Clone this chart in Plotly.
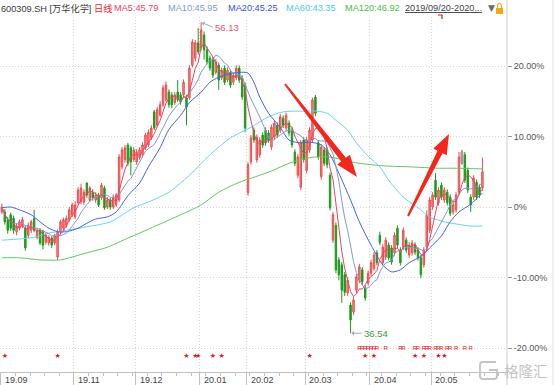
import math
import pandas as pd
import plotly.graph_objects as go

# ---------------- data (percent change vs. base close) ----------------
open_pct = [
    -0.7, -0.7, -1.8, -1.1, -1.6, -3.5, -3.0, -2.7, -3.0, -4.0,
    -3.3, -1.6, -4.3, -3.3, -3.5, -5.0, -5.1, -4.4, -5.1, -7.1,
    -3.5, -3.0, -2.6, -1.8, -1.1, -1.4, 0.6, 0.7, 0.7, 3.4,
    1.0, 2.1, 1.0, 1.7, 1.3, 2.7, 0.0, 1.0, 0.0, 0.3,
    1.0, 5.7, 6.7, 8.8, 8.4, 6.7, 6.4, 7.0, 7.4, 8.4,
    8.8, 9.8, 13.5, 11.6, 13.0, 14.5, 15.2, 16.3, 15.9, 14.8,
    16.3, 15.9, 15.9, 15.5, 15.5, 20.1, 21.1, 23.3, 22.6, 24.4,
    22.3, 21.1, 20.9, 19.1, 20.1, 18.3, 19.7, 18.0, 19.1, 17.7,
    18.3, 19.7, 18.3, 17.3, 2.0, 6.4, 10.9, 6.7, 7.4, 10.2,
    10.9, 10.5, 8.5, 9.9, 11.6, 10.9, 12.6, 11.2, 11.9, 10.9,
    7.8, 4.5, 2.8, 9.5, 5.2, 8.1, 9.5, 15.6, 9.1, 4.3,
    8.1, 8.1, 4.5, -4.7, -2.6, -7.5, -8.2, -9.6, -12.2, -13.9,
    -14.9, -11.8, -10.4, -8.9, -11.5, -10.8, -9.4, -8.7, -6.5, -4.0,
    -7.9, -7.1, -5.4, -5.8, -6.5, -3.0, -6.1, -5.7, -4.7, -6.8,
    -6.5, -5.4, -6.1, -7.2, -8.2, -5.7, -3.3, 0.0, 3.8, 0.6,
    3.1, 1.0, 2.1, 1.4, -0.7, -0.4, 2.1, 6.2, 7.4, 5.2,
    1.4, 1.4, 3.5, 2.8, 2.7,
]
close_pct = [
    0.0, -2.1, -3.3, -3.0, -3.3, -2.7, -2.1, -1.8, -5.8, -2.6,
    -2.1, -3.3, -3.3, -5.1, -5.4, -4.0, -4.3, -5.4, -4.1, -3.5,
    -2.1, -1.8, -1.6, -0.4, 0.3, 0.3, 2.4, 2.7, 2.1, 1.7,
    2.7, 1.3, 1.7, 0.3, 3.1, -0.1, 1.0, 0.0, 1.4, 1.7,
    7.1, 8.1, 8.4, 6.2, 6.4, 8.1, 7.8, 8.1, 8.8, 10.2,
    10.6, 11.2, 11.2, 13.8, 14.5, 16.9, 17.3, 14.5, 14.5, 15.9,
    15.2, 14.9, 17.7, 14.2, 19.7, 23.4, 23.3, 22.0, 25.1, 22.3,
    20.6, 19.7, 18.7, 20.6, 18.0, 19.4, 17.7, 19.4, 17.3, 18.7,
    19.7, 18.0, 15.6, 11.2, 6.0, 9.8, 9.5, 9.9, 9.5, 8.8,
    9.1, 9.5, 11.3, 11.9, 10.2, 12.8, 11.6, 13.0, 10.5, 8.8,
    6.2, 7.1, 9.1, 6.7, 9.5, 10.9, 15.2, 13.3, 7.1, 8.5,
    6.2, 6.0, -0.1, -1.1, -8.9, -9.6, -11.8, -12.1, -10.4, -16.0,
    -13.2, -9.9, -8.5, -10.6, -12.9, -9.4, -7.9, -6.8, -7.9, -5.0,
    -5.7, -4.7, -7.2, -7.8, -4.0, -5.4, -7.9, -3.3, -6.1, -5.4,
    -5.1, -6.4, -7.2, -9.6, -6.1, -1.1, 1.0, 1.7, 1.4, 2.4,
    1.4, 2.4, 0.6, -0.9, 0.3, 1.7, 7.1, 7.8, 3.8, 2.4,
    0.3, 4.1, 1.4, 1.7, 5.0,
]
high_pct = [
    0.5, -0.3, -1.4, -0.8, -1.2, -2.3, -1.8, -1.4, -2.6, -2.2,
    -1.8, -0.4, -3.0, -3.0, -3.2, -3.6, -4.0, -4.1, -3.8, -3.2,
    -1.8, -1.5, -1.2, 0.0, 0.6, 0.8, 2.8, 3.3, 2.5, 3.5,
    3.0, 2.5, 2.1, 2.0, 3.4, 3.0, 1.4, 1.3, 1.8, 2.0,
    7.5, 8.5, 8.8, 9.1, 8.7, 8.5, 8.2, 8.5, 9.2, 10.5,
    11.0, 11.6, 13.8, 14.2, 15.0, 17.3, 17.8, 16.7, 16.3, 16.3,
    18.0, 16.3, 18.1, 15.9, 20.1, 23.8, 23.7, 25.4, 26.2, 24.9,
    22.8, 21.5, 21.3, 21.0, 20.5, 19.8, 20.1, 19.8, 19.5, 19.1,
    20.1, 20.1, 18.7, 17.7, 6.4, 10.2, 11.3, 10.3, 9.9, 10.6,
    11.3, 10.9, 11.7, 12.3, 12.0, 13.2, 13.0, 13.4, 12.3, 11.3,
    8.2, 7.5, 9.5, 9.9, 9.9, 11.3, 15.5, 15.9, 9.5, 8.9,
    8.5, 8.5, 4.9, -0.7, -2.2, -7.1, -7.8, -9.2, -10.0, -13.5,
    -12.8, -9.5, -8.1, -8.5, -11.1, -9.0, -7.5, -6.4, -6.1, -3.5,
    -5.3, -4.3, -5.0, -5.4, -3.6, -2.6, -5.7, -2.9, -4.3, -5.0,
    -4.7, -5.0, -5.7, -6.8, -5.7, -0.5, 1.4, 2.1, 4.8, 2.8,
    3.5, 2.8, 2.5, 1.8, 0.7, 2.1, 7.8, 8.1, 7.8, 5.6,
    1.8, 4.5, 3.9, 3.2, 7.0,
]
low_pct = [
    -1.0, -2.5, -3.8, -3.4, -3.8, -4.0, -3.3, -3.0, -6.2, -4.4,
    -3.7, -3.6, -4.6, -5.4, -6.0, -5.3, -5.5, -5.8, -5.4, -7.5,
    -3.9, -3.3, -2.9, -2.1, -1.4, -1.7, 0.3, 0.4, 0.3, 1.3,
    0.7, 0.9, 0.6, 0.0, 1.0, -0.4, -0.3, -0.4, -0.3, 0.0,
    0.7, 5.3, 6.3, 5.8, 4.5, 6.4, 6.0, 6.7, 7.0, 8.1,
    8.5, 9.5, 10.9, 11.3, 12.8, 14.2, 14.9, 14.1, 14.0, 14.5,
    14.9, 14.5, 15.5, 11.6, 15.2, 19.8, 20.6, 21.6, 22.2, 20.9,
    20.2, 19.3, 18.3, 18.8, 16.6, 18.0, 17.3, 17.7, 16.9, 17.3,
    18.0, 17.6, 15.2, 10.6, 1.6, 6.0, 9.1, 6.3, 7.0, 8.4,
    8.7, 9.1, 8.1, 9.5, 9.8, 10.5, 11.2, 10.8, 10.1, 8.4,
    5.8, 4.1, 2.4, 6.3, 4.8, 7.7, 9.1, 12.9, 6.7, 3.9,
    5.8, 5.5, -0.5, -5.1, -9.4, -10.4, -13.6, -12.6, -12.6, -17.9,
    -15.3, -12.2, -10.8, -11.0, -13.3, -11.2, -9.8, -9.1, -8.3, -5.4,
    -8.3, -7.5, -7.6, -8.2, -6.9, -5.8, -8.3, -6.1, -6.5, -7.2,
    -6.9, -6.8, -7.6, -10.1, -8.6, -6.1, -3.7, -0.4, 1.0, 0.2,
    1.0, 0.6, 0.2, -1.3, -1.1, -0.8, 1.7, 6.0, 3.4, 2.0,
    -0.7, 1.0, 1.0, 1.3, 2.3,
]
gray_day = 157  # candle drawn in gray

# moving averages (trading-day index, percent)
ma20_day = [0, 3, 6, 10, 13, 16, 19, 22, 26, 29, 32, 36, 39, 43, 47, 50, 54, 57, 61, 64,
            68, 71, 74, 78, 81, 84, 86, 88, 91, 95, 98, 102, 105, 109, 112, 115, 119, 122,
            126, 130, 133, 136, 139, 143, 146, 150, 153, 156, 160, 164]
ma20_val = [-0.1, 0.0, -0.4, -1.1, -2.1, -3.0, -3.5, -3.5, -3.0, -2.3, -1.7, -1.4, -0.7, 1.6,
            3.4, 5.7, 8.4, 11.0, 13.0, 14.8, 16.3, 17.7, 18.4, 18.9, 19.1, 19.0, 17.7, 15.6,
            13.3, 11.3, 9.5, 9.1, 9.2, 8.8, 7.4, 4.8, 1.0, -2.1, -5.4, -8.2, -9.2, -8.9, -7.9,
            -7.0, -5.8, -4.1, -2.1, -0.7, 0.4, 2.0]
ma60_day = [0, 11, 16, 22, 29, 37, 45, 50, 57, 64, 71, 78, 85, 91, 96, 102, 107, 111, 114,
            118, 121, 125, 129, 132, 137, 142, 146, 151, 155, 160, 164]
ma60_val = [-4.7, -4.3, -3.7, -3.3, -2.8, -2.1, -0.1, 0.7, 2.1, 4.5, 7.4, 9.8, 11.3, 12.8,
            13.5, 13.6, 13.6, 13.3, 12.3, 10.9, 9.1, 7.2, 5.7, 3.8, 1.4, -0.1, -1.4, -2.1,
            -2.4, -2.7, -2.7]
ma120_day = [0, 6, 13, 20, 23, 29, 36, 43, 47, 54, 61, 68, 74, 81, 88, 92, 98, 105, 112,
             119, 126, 132, 139, 149, 155, 164]
ma120_val = [-7.2, -7.2, -7.5, -7.5, -7.2, -6.5, -5.7, -4.4, -3.7, -2.4, -1.1, 0.3, 2.1, 3.5,
             4.5, 5.1, 6.2, 7.0, 7.1, 6.4, 6.0, 5.8, 5.7, 5.5, 5.5, 5.4]

month_day = [0, 25, 46, 68, 84, 104, 126, 147]
month_label = ["19.09", "19.11", "19.12", "20.01", "20.02", "20.03", "20.04", "20.05"]
y_ticks = [20, 10, 0, -10, -20]
y_ticktext = ["20.00%", "10.00%", "0%", "-10.00%", "-20.00%"]

star_day = [1, 19, 63, 66, 67, 72, 75, 105, 124, 127, 141, 144, 149, 151]
r_day = [122, 123, 124, 125, 126, 127, 128, 131, 136, 137, 141, 142, 144, 145, 146,
         148, 149, 150, 152, 153, 155, 158, 160]

high_label, high_day, high_val = "56.13", 68, 26.2
low_label, low_day, low_val = "36.54", 119, -17.9

header = [
    ("600309.SH [万华化学]", "#3a3a3a"),
    ("日线", "#e8262a"),
    ("MA5:45.79", "#f0405f"),
    ("MA10:45.95", "#7f9ac8"),
    ("MA20:45.25", "#3a4cf0"),
    ("MA60:43.35", "#3fcfea"),
    ("MA120:46.92", "#4cc04c"),
    ("<u>2019/09/20-2020...</u>", "#444444"),
]

# ---------------- figure ----------------
N = len(close_pct)
days = list(range(N))
closes = pd.Series(close_pct)
ma5 = closes.rolling(5, min_periods=1).mean()
ma10 = closes.rolling(10, min_periods=1).mean()

W, H = 554, 385
ML, MR, MT, MB = 0, 47, 17, 13
PW, PH = W - ML - MR, H - MT - MB
PX_PER_DAY = 2.93
x0 = -1.9 / PX_PER_DAY
x1 = x0 + PW / PX_PER_DAY
Y_TOP, Y_BOT = 26.95, -23.40


def pxx(x):
    return (x - ML) / PW


def pxy(y):
    return (H - MB - y) / PH


fig = go.Figure()
fig.add_trace(go.Candlestick(
    x=days, open=open_pct, high=high_pct, low=low_pct, close=close_pct,
    increasing=dict(line=dict(color="#f04a4a", width=1), fillcolor="#f88a8a"),
    decreasing=dict(line=dict(color="#1e9a1e", width=1), fillcolor="#1e9a1e"),
    whiskerwidth=0, showlegend=False, hoverinfo="skip",
))
g = gray_day
fig.add_trace(go.Candlestick(
    x=[g], open=[open_pct[g]], high=[high_pct[g]], low=[low_pct[g]], close=[close_pct[g]],
    increasing=dict(line=dict(color="#9a9a9a", width=1), fillcolor="#b0b0b0"),
    decreasing=dict(line=dict(color="#9a9a9a", width=1), fillcolor="#b0b0b0"),
    whiskerwidth=0, showlegend=False, hoverinfo="skip",
))

line_specs = [
    (ma120_day, ma120_val, "#62c862"),
    (ma60_day, ma60_val, "#66d6ee"),
    (ma20_day, ma20_val, "#4262ee"),
]
for xs, ys, col in line_specs:
    fig.add_trace(go.Scatter(x=xs, y=ys, mode="lines", line=dict(color=col, width=1, shape="spline", smoothing=0.8),
                             showlegend=False, hoverinfo="skip"))
fig.add_trace(go.Scatter(x=days, y=ma10, mode="lines", line=dict(color="#7f9cd4", width=1),
                         showlegend=False, hoverinfo="skip"))
fig.add_trace(go.Scatter(x=days, y=ma5, mode="lines", line=dict(color="#e8456a", width=1),
                         showlegend=False, hoverinfo="skip"))

# signal markers
fig.add_trace(go.Scatter(x=star_day, y=[-21.1] * len(star_day), mode="text", text=["★"] * len(star_day),
                         textfont=dict(family="DejaVu Sans", size=7, color="#e01818"),
                         showlegend=False, hoverinfo="skip"))
fig.add_trace(go.Scatter(x=r_day, y=[-20.1] * len(r_day), mode="text", text=["R"] * len(r_day),
                         textfont=dict(family="Liberation Sans", size=6, color="#e01818"),
                         showlegend=False, hoverinfo="skip"))

annotations = []
# high / low labels
annotations.append(dict(x=high_day, y=high_val, xref="x", yref="y", text=high_label, showarrow=True,
                        ax=12, ay=5, xanchor="left", yanchor="middle", arrowhead=1, arrowsize=0.8,
                        arrowwidth=1, arrowcolor="#8fb0cc", standoff=1,
                        font=dict(family="Liberation Sans", size=9.5, color="#e85a66")))
annotations.append(dict(x=low_day, y=low_val, xref="x", yref="y", text=low_label, showarrow=True,
                        ax=11, ay=0, xanchor="left", yanchor="middle", arrowhead=1, arrowsize=0.8,
                        arrowwidth=1, arrowcolor="#8fb0cc", standoff=1,
                        font=dict(family="Liberation Sans", size=9.5, color="#38a038")))

# header
header_x = [-1, 92, 112, 166, 226, 284, 343, 403]
for (txt, col), hx in zip(header, header_x):
    annotations.append(dict(x=pxx(hx), y=pxy(8), xref="paper", yref="paper", text=txt, showarrow=False,
                            xanchor="left", yanchor="middle",
                            font=dict(family="Liberation Sans, Noto Sans CJK SC", size=9.2, color=col)))
annotations.append(dict(x=pxx(486), y=pxy(8), xref="paper", yref="paper", text="▼", showarrow=False,
                        xanchor="left", yanchor="middle",
                        font=dict(family="DejaVu Sans", size=9, color="#6a6a6a")))

# x tick labels (left-aligned after each month boundary)
for d, lab in zip(month_day, month_label):
    annotations.append(dict(x=d - 0.4, y=0, xref="x", yref="paper", text=lab, showarrow=False,
                            xanchor="left", yanchor="top", xshift=2, yshift=-1,
                            font=dict(family="Liberation Sans", size=9, color="#444444")))

# watermark
annotations.append(dict(x=pxx(502), y=pxy(370), xref="paper", yref="paper", text="格隆汇", showarrow=False,
                        xanchor="left", yanchor="middle",
                        font=dict(family="Noto Sans CJK SC", size=14.5, color="#c4c4c4")))


def arrow_path(tx, ty, hx, hy, tail_w, shaft_w, head_w, head_len):
    L = math.hypot(hx - tx, hy - ty)
    ux, uy = (hx - tx) / L, (hy - ty) / L
    nx, ny = -uy, ux
    bx, by = hx - ux * head_len, hy - uy * head_len
    pts = [(tx + nx * tail_w, ty + ny * tail_w), (bx + nx * shaft_w, by + ny * shaft_w),
           (bx + nx * head_w, by + ny * head_w), (hx, hy),
           (bx - nx * head_w, by - ny * head_w), (bx - nx * shaft_w, by - ny * shaft_w),
           (tx - nx * tail_w, ty - ny * tail_w)]
    return "M " + " L ".join(f"{pxx(x):.5f},{pxy(y):.5f}" for x, y in pts) + " Z"


shapes = []
for spec in [(285, 84, 357, 177, 1.0, 3.0, 8.0, 22), (408, 216, 449, 134, 1.0, 2.8, 7.5, 20)]:
    shapes.append(dict(type="path", xref="paper", yref="paper", path=arrow_path(*spec),
                       fillcolor="#f5261b", line=dict(width=0)))
# axis frame lines
shapes.append(dict(type="line", xref="paper", yref="paper", x0=pxx(507), x1=pxx(507), y0=pxy(385), y1=pxy(0),
                   line=dict(color="#cfcfcf", width=1)))
shapes.append(dict(type="line", xref="paper", yref="paper", x0=pxx(553), x1=pxx(553), y0=pxy(385), y1=pxy(0),
                   line=dict(color="#e2e2e2", width=1)))
# small red flag mark near the top
shapes.append(dict(type="path", xref="paper", yref="paper",
                   path=f"M {pxx(438)},{pxy(15)} L {pxx(442)},{pxy(15)} L {pxx(442)},{pxy(19)}",
                   line=dict(color="#e01818", width=1.2)))
# lock icon
shapes.append(dict(type="rect", xref="paper", yref="paper", x0=pxx(496), x1=pxx(503), y0=pxy(14), y1=pxy(8),
                   fillcolor="#f2a818", line=dict(width=0)))
shapes.append(dict(type="path", xref="paper", yref="paper",
                   path=f"M {pxx(497.5)},{pxy(8)} L {pxx(497.5)},{pxy(5)} Q {pxx(499.5)},{pxy(1.5)} {pxx(501.5)},{pxy(5)} L {pxx(501.5)},{pxy(8)}",
                   line=dict(color="#f2a818", width=1.2)))
# watermark icon
shapes.append(dict(type="path", xref="paper", yref="paper",
                   path=(f"M {pxx(496)},{pxy(362)} L {pxx(483)},{pxy(362)} Q {pxx(480)},{pxy(362)} {pxx(480)},{pxy(365)} "
                         f"L {pxx(480)},{pxy(376)} Q {pxx(480)},{pxy(379)} {pxx(483)},{pxy(379)} L {pxx(494)},{pxy(379)} "
                         f"Q {pxx(497)},{pxy(379)} {pxx(497)},{pxy(376)} L {pxx(497)},{pxy(370)} L {pxx(489)},{pxy(370)}"),
                   line=dict(color="#c4c4c4", width=1.8)))

fig.update_layout(
    width=W, height=H, margin=dict(l=ML, r=MR, t=MT, b=MB),
    paper_bgcolor="white", plot_bgcolor="white",
    annotations=annotations, shapes=shapes, showlegend=False,
    xaxis=dict(range=[x0, x1], rangeslider=dict(visible=False), tickmode="array",
               tickvals=[d - 0.4 for d in month_day], showticklabels=False,
               ticks="outside", ticklen=13, tickcolor="#c0c0c0", tickwidth=1,
               showgrid=True, gridcolor="#d4d4d4", griddash="1px,2px", gridwidth=1,
               showline=True, linecolor="#c0c0c0", linewidth=1, zeroline=False,
               minor=dict(ticks="outside", ticklen=3, tickcolor="#c0c0c0", tick0=-0.4, dtick=5, showgrid=False),
               fixedrange=True),
    yaxis=dict(range=[Y_BOT, Y_TOP], side="right", tickmode="array", tickvals=y_ticks, ticktext=y_ticktext,
               ticks="outside", ticklen=4, tickcolor="#999999", showgrid=True, gridcolor="#d4d4d4",
               griddash="1px,2px", zeroline=False, showline=False,
               tickfont=dict(family="Liberation Sans", size=9, color="#555555"), fixedrange=True),
)

fig.write_html("out.html", config={"displayModeBar": False})
